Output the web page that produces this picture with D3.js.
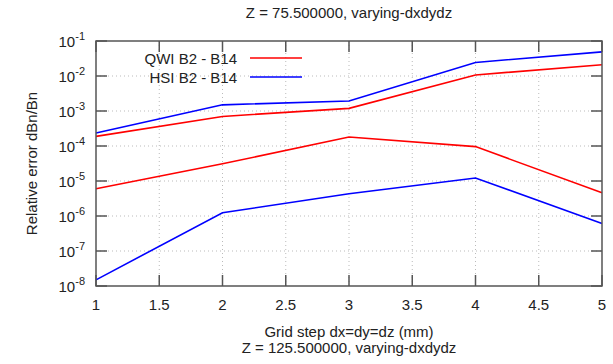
<!DOCTYPE html>
<html lang="en">
<head>
<meta charset="utf-8">
<title>varying-dxdydz</title>
<script src="https://d3js.org/d3.v7.min.js"></script>
<style>
  body { margin: 0; background: #fff; }
  svg text { font-family: "Liberation Sans", Arial, sans-serif; fill: #222; font-size: 15px; }
</style>
</head>
<body>
<svg id="chart"></svg>
<script>
// grid steps (mm)
const steps = [1, 2, 3, 4, 5];
// series, two curves each
const qwiUpper = [1.88e-4, 7.0e-4, 1.19e-3, 1.07e-2, 2.1e-2];
const qwiLower = [6.0e-6, 3.1e-5, 1.8e-4, 9.6e-5, 4.6e-6];
const hsiUpper = [2.36e-4, 1.5e-3, 1.93e-3, 2.44e-2, 4.9e-2];
const hsiLower = [1.5e-8, 1.24e-6, 4.3e-6, 1.22e-5, 6.1e-7];
const xTicks = [1, 1.5, 2, 2.5, 3, 3.5, 4, 4.5, 5];
const yExps = [-1, -2, -3, -4, -5, -6, -7, -8];

const W = 613, H = 364;
const margin = {top: 41, right: 11, bottom: 78, left: 96};
const width = W - margin.left - margin.right,
  height = H - margin.top - margin.bottom;

const svg = d3.select('#chart').attr('width', W).attr('height', H);
const chart = svg.append('g')
  .attr('transform', `translate(${margin.left},${margin.top})`);

const x = d3.scaleLinear().domain([1, 5]).range([0, width]);
const y = d3.scaleLog().domain([1e-8, 1e-1]).range([height, 0]);

// dotted grid
chart.append('g').selectAll('line')
  .data(xTicks.slice(1, -1))
  .enter().append('line')
  .attr('x1', d => x(d)).attr('x2', d => x(d))
  .attr('y1', 0).attr('y2', height)
  .attr('stroke', '#bbb').attr('stroke-dasharray', '1,3');
chart.append('g').selectAll('line')
  .data(yExps.slice(1, -1))
  .enter().append('line')
  .attr('x1', 0).attr('x2', width)
  .attr('y1', d => y(Math.pow(10, d))).attr('y2', d => y(Math.pow(10, d)))
  .attr('stroke', '#bbb').attr('stroke-dasharray', '1,3');

// inward ticks, mirrored
const tk = 11;
const tickG = chart.append('g').attr('stroke', '#555').attr('stroke-width', 1.5);
xTicks.forEach(t => {
  tickG.append('line').attr('x1', x(t)).attr('x2', x(t)).attr('y1', height).attr('y2', height - tk);
  tickG.append('line').attr('x1', x(t)).attr('x2', x(t)).attr('y1', 0).attr('y2', tk);
});
yExps.forEach(e => {
  const yy = y(Math.pow(10, e));
  tickG.append('line').attr('x1', 0).attr('x2', tk).attr('y1', yy).attr('y2', yy);
  tickG.append('line').attr('x1', width).attr('x2', width - tk).attr('y1', yy).attr('y2', yy);
});

// tick labels
chart.append('g').selectAll('text')
  .data(xTicks)
  .enter().append('text')
  .attr('x', d => x(d)).attr('y', height + 24)
  .attr('text-anchor', 'middle')
  .text(d => d);

const yl = chart.append('g').selectAll('text')
  .data(yExps)
  .enter().append('text')
  .attr('x', -11).attr('y', d => y(Math.pow(10, d)) + 6)
  .attr('text-anchor', 'end');
yl.append('tspan').text('10');
yl.append('tspan').attr('dy', -7).style('font-size', '11px').text(d => d);

// lines
const line = d3.line().x((d, i) => x(steps[i])).y(d => y(d));
const series = [
  {v: qwiUpper, c: '#ff0000'}, {v: qwiLower, c: '#ff0000'},
  {v: hsiUpper, c: '#0000ff'}, {v: hsiLower, c: '#0000ff'}
];
chart.append('g').selectAll('path')
  .data(series)
  .enter().append('path')
  .attr('d', d => line(d.v))
  .attr('fill', 'none')
  .attr('stroke', d => d.c)
  .attr('stroke-width', 1.6);

// border
chart.append('rect')
  .attr('width', width).attr('height', height)
  .attr('fill', 'none').attr('stroke', '#555').attr('stroke-width', 1.5);

// legend
const legend = [{name: 'QWI B2 - B14', c: '#ff0000'}, {name: 'HSI B2 - B14', c: '#0000ff'}];
const lg = chart.append('g').selectAll('g')
  .data(legend)
  .enter().append('g')
  .attr('transform', (d, i) => `translate(0,${17 + i * 19})`);
lg.append('text')
  .attr('x', 141).attr('y', 5.5)
  .attr('text-anchor', 'end')
  .text(d => d.name);
lg.append('line')
  .attr('x1', 154).attr('x2', 206)
  .attr('stroke', d => d.c).attr('stroke-width', 1.6);

// titles
svg.append('text')
  .attr('x', margin.left + width / 2).attr('y', 18)
  .attr('text-anchor', 'middle')
  .text('Z = 75.500000, varying-dxdydz');
svg.append('text')
  .attr('x', margin.left + width / 2).attr('y', 337)
  .attr('text-anchor', 'middle')
  .text('Grid step dx=dy=dz (mm)');
svg.append('text')
  .attr('x', margin.left + width / 2).attr('y', 353)
  .attr('text-anchor', 'middle')
  .text('Z = 125.500000, varying-dxdydz');
svg.append('text')
  .attr('transform', `translate(37,${margin.top + height / 2}) rotate(-90)`)
  .attr('text-anchor', 'middle')
  .text('Relative error dBn/Bn');
</script>
</body>
</html>
